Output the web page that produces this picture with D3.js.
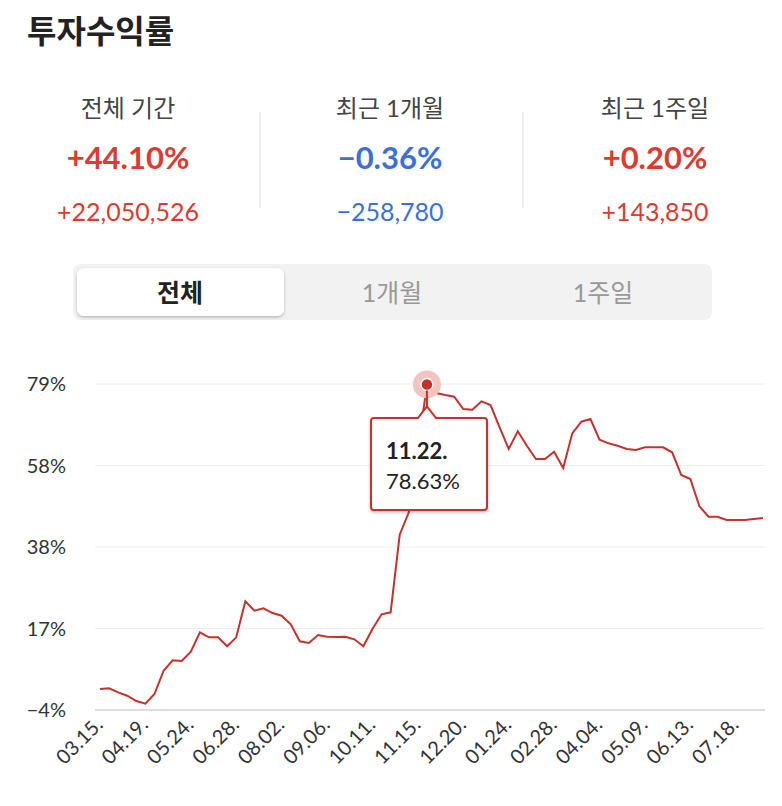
<!DOCTYPE html>
<html><head><meta charset="utf-8">
<script src="https://cdn.jsdelivr.net/npm/d3@7"></script>
<style>body{margin:0;background:#fff;font-family:Lato,'Noto Sans CJK KR',sans-serif}</style>
</head><body><svg id="c" width="782" height="806"></svg>
<script>
const values=[1.09,1.27,0.25,-0.61,-1.96,-2.65,-0.18,5.75,8.40,8.22,10.59,15.53,14.25,14.25,11.96,14.25,23.42,21.03,21.64,20.44,19.75,17.56,13.24,12.80,14.84,14.41,14.33,14.41,13.75,11.96,16.37,20.11,20.62,40.38,46.08,62.0,78.63,76.45,75.94,75.51,72.38,72.20,74.34,73.40,67.72,62.20,66.70,63.04,59.65,59.65,61.51,57.36,66.19,69.15,69.83,64.56,63.65,63.04,62.20,61.94,62.63,62.63,62.63,61.36,55.58,54.56,47.61,44.96,44.96,44.12,44.12,44.12,44.37,44.63];
const tickLabels=["03.15.","04.19.","05.24.","06.28.","08.02.","09.06.","10.11.","11.15.","12.20.","01.24.","02.28.","04.04.","05.09.","06.13.","07.18."];
const yTickValues=[-4.25,16.5,37.25,58,78.75];
const yTickLabels=["−4%","17%","38%","58%","79%"];
const summaryLabels=["전체 기간","최근 1개월","최근 1주일"];
const summaryPct=["+44.10%","−0.36%","+0.20%"];
const summaryAmt=["+22,050,526","−258,780","+143,850"];
const summaryColor=["#e03a2f","#3b6fdc","#e03a2f"];
const tabs=["전체","1개월","1주일"];
const peakIndex=36, peakDate="11.22.", peakLabel="78.63%";

const svg=d3.select("#c");
const red="#c8302a";
svg.append("text").attr("x",27).attr("y",43).attr("font-size",32).attr("font-weight",700).attr("fill","#222").text("투자수익률");
const cx=[128,390,655];
summaryLabels.forEach((t,i)=>{
  svg.append("text").attr("x",cx[i]).attr("y",117).attr("text-anchor","middle").attr("font-size",24).attr("fill","#444").text(t);
  svg.append("text").attr("x",cx[i]).attr("y",169).attr("text-anchor","middle").attr("font-size",31).attr("font-weight",700).attr("fill",summaryColor[i]).text(summaryPct[i]);
  svg.append("text").attr("x",cx[i]).attr("y",221).attr("text-anchor","middle").attr("font-size",25).attr("fill",summaryColor[i]).text(summaryAmt[i]);
});
[260,523].forEach(x=>svg.append("line").attr("x1",x).attr("x2",x).attr("y1",112).attr("y2",208).attr("stroke","#ddd"));
const defs=svg.append("defs");
const f=defs.append("filter").attr("id","sh").attr("x","-20%").attr("y","-20%").attr("width","140%").attr("height","150%");
f.append("feDropShadow").attr("dx",0).attr("dy",1.5).attr("stdDeviation",1.5).attr("flood-color","#000").attr("flood-opacity",0.25);
svg.append("rect").attr("x",73).attr("y",264).attr("width",639).attr("height",56).attr("rx",8).attr("fill","#f2f2f3");
svg.append("rect").attr("x",77).attr("y",268).attr("width",207).attr("height",48).attr("rx",7).attr("fill","#fff").attr("filter","url(#sh)");
const tx=[180,392,603];
tabs.forEach((t,i)=>svg.append("text").attr("x",tx[i]).attr("y",302).attr("text-anchor","middle").attr("font-size",25)
  .attr("font-weight",i==0?700:400).attr("fill",i==0?"#222":"#999").text(t));

const x=d3.scaleLinear().domain([0,values.length-1]).range([100,763]);
const y=d3.scaleLinear().domain([-4.25,78.75]).range([710,384]);
yTickValues.forEach((v,i)=>{
  svg.append("line").attr("x1",95).attr("x2",765).attr("y1",y(v)).attr("y2",y(v)).attr("stroke",i==0?"#ddd":"#eee").attr("stroke-width",i==0?2:1);
  svg.append("text").attr("x",66).attr("y",y(v)+7).attr("text-anchor","end").attr("font-size",20).attr("fill","#333").text(yTickLabels[i]);
});
tickLabels.forEach((t,i)=>{
  const xx=x(i*5)+4;
  svg.append("text").attr("transform",`translate(${xx},726) rotate(-45)`).attr("text-anchor","end").attr("font-size",20).attr("fill","#333").text(t);
});
svg.append("path").datum(values).attr("fill","none").attr("stroke",red).attr("stroke-width",2)
  .attr("d",d3.line().x((d,i)=>x(i)).y(d=>y(d)));
const px=x(peakIndex), py=y(values[peakIndex]);
svg.append("circle").attr("cx",px).attr("cy",py).attr("r",14).attr("fill","#f2c4c0");
svg.append("circle").attr("cx",px).attr("cy",py).attr("r",6).attr("fill",red).attr("stroke","#fff").attr("stroke-width",1.5);
const bx=371,by=418,bw=116,bh=92;
svg.append("line").attr("x1",px).attr("x2",px).attr("y1",py+6).attr("y2",py+22).attr("stroke",red).attr("stroke-width",2);
svg.append("path").attr("filter","url(#sh)")
  .attr("d",`M${bx+3},${by} L${px-9},${by} L${px},${py+22} L${px+9},${by} L${bx+bw-3},${by} Q${bx+bw},${by} ${bx+bw},${by+3} L${bx+bw},${by+bh-3} Q${bx+bw},${by+bh} ${bx+bw-3},${by+bh} L${bx+3},${by+bh} Q${bx},${by+bh} ${bx},${by+bh-3} L${bx},${by+3} Q${bx},${by} ${bx+3},${by}Z`)
  .attr("fill","#fff").attr("stroke",red).attr("stroke-width",2);
svg.append("text").attr("x",386).attr("y",459).attr("font-size",22).attr("font-weight",700).attr("fill","#222").text(peakDate);
svg.append("text").attr("x",386).attr("y",489).attr("font-size",22).attr("fill","#222").text(peakLabel);
</script></body></html>
